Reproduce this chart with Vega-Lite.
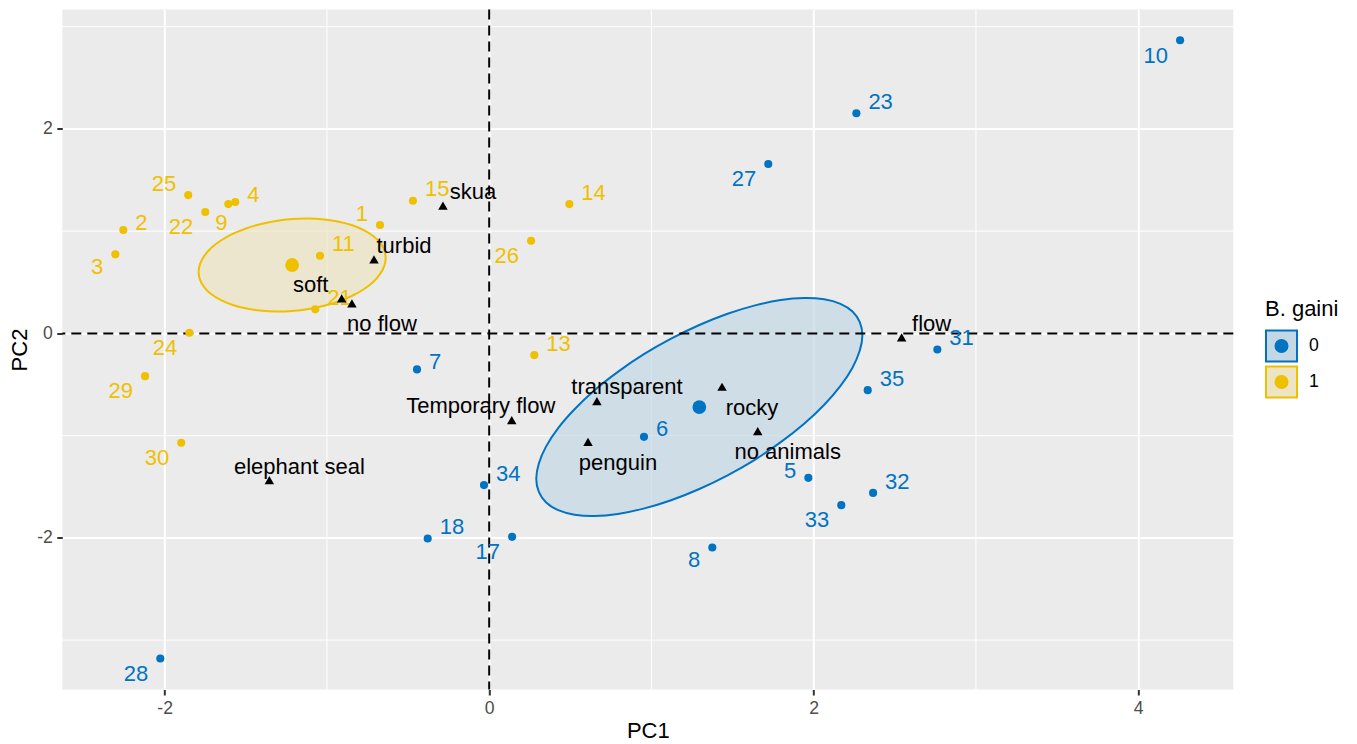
{
  "$schema": "https://vega.github.io/schema/vega-lite/v6.json",
  "width": 1171,
  "height": 680,
  "autosize": "none",
  "padding": {"left": 62.3, "top": 9.5, "right": 123.7, "bottom": 54.5},
  "background": "white",
  "config": {
    "view": {"fill": "#EBEBEB", "stroke": null},
    "font": "Liberation Sans",
    "axis": {
      "domain": false,
      "grid": true,
      "gridColor": "white",
      "gridWidth": 2,
      "tickColor": "#333333",
      "tickWidth": 2,
      "tickSize": 5.5,
      "labelFont": "Liberation Sans",
      "labelFontSize": 17.6,
      "labelColor": "#4D4D4D",
      "labelPadding": 4.4,
      "labelFlush": false,
      "labelOverlap": false,
      "labelExpr": "'' + datum.value",
      "titleFont": "Liberation Sans",
      "titleFontSize": 22,
      "titleFontWeight": "normal",
      "titleColor": "black"
    }
  },
  "datasets": {
    "samples": [
      {"id": "1", "grp": "1", "x": -0.673, "y": 1.060, "side": "ul"},
      {"id": "2", "grp": "1", "x": -2.255, "y": 1.011, "side": "ur1"},
      {"id": "3", "grp": "1", "x": -2.304, "y": 0.773, "side": "ll1"},
      {"id": "4", "grp": "1", "x": -1.565, "y": 1.285, "side": "ur1"},
      {"id": "9", "grp": "1", "x": -1.608, "y": 1.265, "side": "b"},
      {"id": "11", "grp": "1", "x": -1.043, "y": 0.759, "side": "ur"},
      {"id": "13", "grp": "1", "x": 0.278, "y": -0.212, "side": "ur"},
      {"id": "14", "grp": "1", "x": 0.494, "y": 1.265, "side": "ur"},
      {"id": "15", "grp": "1", "x": -0.470, "y": 1.297, "side": "ur"},
      {"id": "21", "grp": "1", "x": -1.072, "y": 0.235, "side": "ur"},
      {"id": "22", "grp": "1", "x": -1.750, "y": 1.187, "side": "ll"},
      {"id": "24", "grp": "1", "x": -1.848, "y": 0.006, "side": "ll"},
      {"id": "25", "grp": "1", "x": -1.855, "y": 1.353, "side": "ul"},
      {"id": "26", "grp": "1", "x": 0.258, "y": 0.906, "side": "ll"},
      {"id": "29", "grp": "1", "x": -2.121, "y": -0.418, "side": "ll"},
      {"id": "30", "grp": "1", "x": -1.898, "y": -1.070, "side": "ll"},
      {"id": "5", "grp": "0", "x": 1.967, "y": -1.413, "side": "ul1"},
      {"id": "6", "grp": "0", "x": 0.954, "y": -1.012, "side": "ur1"},
      {"id": "7", "grp": "0", "x": -0.445, "y": -0.352, "side": "ur1"},
      {"id": "8", "grp": "0", "x": 1.375, "y": -2.094, "side": "ll1"},
      {"id": "10", "grp": "0", "x": 4.258, "y": 2.867, "side": "ll"},
      {"id": "17", "grp": "0", "x": 0.141, "y": -1.990, "side": "ll"},
      {"id": "18", "grp": "0", "x": -0.379, "y": -2.006, "side": "ur"},
      {"id": "23", "grp": "0", "x": 2.263, "y": 2.153, "side": "ur"},
      {"id": "27", "grp": "0", "x": 1.720, "y": 1.657, "side": "ll"},
      {"id": "28", "grp": "0", "x": -2.027, "y": -3.180, "side": "ll"},
      {"id": "31", "grp": "0", "x": 2.762, "y": -0.157, "side": "ur"},
      {"id": "32", "grp": "0", "x": 2.366, "y": -1.560, "side": "ur"},
      {"id": "33", "grp": "0", "x": 2.170, "y": -1.680, "side": "ll"},
      {"id": "34", "grp": "0", "x": -0.032, "y": -1.484, "side": "ur"},
      {"id": "35", "grp": "0", "x": 2.333, "y": -0.555, "side": "ur"}
    ],
    "variables": [
      {"name": "turbid", "x": -0.710, "y": 0.724, "side": "ar"},
      {"name": "soft", "x": -0.909, "y": 0.342, "side": "al"},
      {"name": "no flow", "x": -0.846, "y": 0.294, "side": "br"},
      {"name": "skua", "x": -0.285, "y": 1.249, "side": "ar"},
      {"name": "flow", "x": 2.542, "y": -0.039, "side": "ar"},
      {"name": "elephant seal", "x": -1.355, "y": -1.435, "side": "ar"},
      {"name": "Temporary flow", "x": 0.139, "y": -0.848, "side": "al"},
      {"name": "transparent", "x": 0.664, "y": -0.662, "side": "ar"},
      {"name": "penguin", "x": 0.609, "y": -1.061, "side": "br"},
      {"name": "rocky", "x": 1.435, "y": -0.522, "side": "br"},
      {"name": "no animals", "x": 1.655, "y": -0.956, "side": "br"}
    ],
    "ellipses": [
      {"grp": "0", "i": 0, "x": 2.300, "y": -0.018},
      {"grp": "0", "i": 1, "x": 2.284, "y": -0.168},
      {"grp": "0", "i": 2, "x": 2.239, "y": -0.335},
      {"grp": "0", "i": 3, "x": 2.165, "y": -0.514},
      {"grp": "0", "i": 4, "x": 2.065, "y": -0.698},
      {"grp": "0", "i": 5, "x": 1.941, "y": -0.884},
      {"grp": "0", "i": 6, "x": 1.797, "y": -1.064},
      {"grp": "0", "i": 7, "x": 1.639, "y": -1.234},
      {"grp": "0", "i": 8, "x": 1.469, "y": -1.388},
      {"grp": "0", "i": 9, "x": 1.295, "y": -1.522},
      {"grp": "0", "i": 10, "x": 1.121, "y": -1.632},
      {"grp": "0", "i": 11, "x": 0.951, "y": -1.714},
      {"grp": "0", "i": 12, "x": 0.793, "y": -1.766},
      {"grp": "0", "i": 13, "x": 0.649, "y": -1.786},
      {"grp": "0", "i": 14, "x": 0.526, "y": -1.773},
      {"grp": "0", "i": 15, "x": 0.425, "y": -1.729},
      {"grp": "0", "i": 16, "x": 0.351, "y": -1.654},
      {"grp": "0", "i": 17, "x": 0.306, "y": -1.550},
      {"grp": "0", "i": 18, "x": 0.290, "y": -1.422},
      {"grp": "0", "i": 19, "x": 0.306, "y": -1.272},
      {"grp": "0", "i": 20, "x": 0.351, "y": -1.105},
      {"grp": "0", "i": 21, "x": 0.425, "y": -0.926},
      {"grp": "0", "i": 22, "x": 0.526, "y": -0.742},
      {"grp": "0", "i": 23, "x": 0.649, "y": -0.556},
      {"grp": "0", "i": 24, "x": 0.793, "y": -0.376},
      {"grp": "0", "i": 25, "x": 0.951, "y": -0.206},
      {"grp": "0", "i": 26, "x": 1.121, "y": -0.052},
      {"grp": "0", "i": 27, "x": 1.295, "y": 0.082},
      {"grp": "0", "i": 28, "x": 1.469, "y": 0.192},
      {"grp": "0", "i": 29, "x": 1.639, "y": 0.274},
      {"grp": "0", "i": 30, "x": 1.797, "y": 0.326},
      {"grp": "0", "i": 31, "x": 1.941, "y": 0.346},
      {"grp": "0", "i": 32, "x": 2.065, "y": 0.333},
      {"grp": "0", "i": 33, "x": 2.165, "y": 0.289},
      {"grp": "0", "i": 34, "x": 2.239, "y": 0.214},
      {"grp": "0", "i": 35, "x": 2.284, "y": 0.110},
      {"grp": "1", "i": 0, "x": -0.638, "y": 0.738},
      {"grp": "1", "i": 1, "x": -0.647, "y": 0.658},
      {"grp": "1", "i": 2, "x": -0.673, "y": 0.580},
      {"grp": "1", "i": 3, "x": -0.715, "y": 0.503},
      {"grp": "1", "i": 4, "x": -0.773, "y": 0.432},
      {"grp": "1", "i": 5, "x": -0.844, "y": 0.368},
      {"grp": "1", "i": 6, "x": -0.926, "y": 0.314},
      {"grp": "1", "i": 7, "x": -1.017, "y": 0.270},
      {"grp": "1", "i": 8, "x": -1.114, "y": 0.238},
      {"grp": "1", "i": 9, "x": -1.215, "y": 0.219},
      {"grp": "1", "i": 10, "x": -1.315, "y": 0.214},
      {"grp": "1", "i": 11, "x": -1.412, "y": 0.223},
      {"grp": "1", "i": 12, "x": -1.503, "y": 0.245},
      {"grp": "1", "i": 13, "x": -1.585, "y": 0.280},
      {"grp": "1", "i": 14, "x": -1.656, "y": 0.327},
      {"grp": "1", "i": 15, "x": -1.714, "y": 0.385},
      {"grp": "1", "i": 16, "x": -1.756, "y": 0.451},
      {"grp": "1", "i": 17, "x": -1.782, "y": 0.523},
      {"grp": "1", "i": 18, "x": -1.791, "y": 0.601},
      {"grp": "1", "i": 19, "x": -1.782, "y": 0.680},
      {"grp": "1", "i": 20, "x": -1.756, "y": 0.758},
      {"grp": "1", "i": 21, "x": -1.714, "y": 0.835},
      {"grp": "1", "i": 22, "x": -1.656, "y": 0.906},
      {"grp": "1", "i": 23, "x": -1.585, "y": 0.970},
      {"grp": "1", "i": 24, "x": -1.503, "y": 1.024},
      {"grp": "1", "i": 25, "x": -1.412, "y": 1.068},
      {"grp": "1", "i": 26, "x": -1.315, "y": 1.100},
      {"grp": "1", "i": 27, "x": -1.215, "y": 1.119},
      {"grp": "1", "i": 28, "x": -1.114, "y": 1.124},
      {"grp": "1", "i": 29, "x": -1.017, "y": 1.115},
      {"grp": "1", "i": 30, "x": -0.926, "y": 1.093},
      {"grp": "1", "i": 31, "x": -0.844, "y": 1.058},
      {"grp": "1", "i": 32, "x": -0.773, "y": 1.011},
      {"grp": "1", "i": 33, "x": -0.715, "y": 0.953},
      {"grp": "1", "i": 34, "x": -0.673, "y": 0.887},
      {"grp": "1", "i": 35, "x": -0.647, "y": 0.815}
    ],
    "minorX": [{"v": -1}, {"v": 1}, {"v": 3}],
    "minorY": [{"v": -3}, {"v": -1}, {"v": 1}, {"v": 3}],
    "origin": [{"v": 0}]
  },
  "encoding": {
    "x": {
      "field": "x",
      "type": "quantitative",
      "scale": {"domain": [-2.631, 4.586], "nice": false, "zero": false},
      "axis": {"values": [-2, 0, 2, 4], "title": "PC1", "titlePadding": 3}
    },
    "y": {
      "field": "y",
      "type": "quantitative",
      "scale": {"domain": [-3.483, 3.168], "nice": false, "zero": false},
      "axis": {"values": [-2, 0, 2], "title": "PC2", "titlePadding": 5.5}
    }
  },
  "layer": [
    {
      "data": {"name": "minorX"},
      "mark": {"type": "rule", "color": "white", "strokeWidth": 1},
      "encoding": {"x": {"field": "v", "type": "quantitative"}, "y": null}
    },
    {
      "data": {"name": "minorY"},
      "mark": {"type": "rule", "color": "white", "strokeWidth": 1},
      "encoding": {"y": {"field": "v", "type": "quantitative"}, "x": null}
    },
    {
      "data": {"name": "ellipses"},
      "mark": {"type": "line", "interpolate": "cardinal-closed", "fillOpacity": 0.7, "strokeWidth": 2},
      "encoding": {
        "order": {"field": "i", "type": "quantitative"},
        "fill": {
          "field": "grp",
          "type": "nominal",
          "scale": {"domain": ["0", "1"], "range": ["#C3D7E4", "#ECE4C3"]}
        },
        "stroke": {
          "field": "grp",
          "type": "nominal",
          "scale": {"domain": ["0", "1"], "range": ["#0073C2", "#EFC000"]},
          "legend": {
            "title": "B. gaini",
            "orient": "none",
            "legendX": 1202.7,
            "legendY": 289.5,
            "padding": 0,
            "titleFont": "Liberation Sans",
            "titleFontSize": 22,
            "titleFontWeight": "normal",
            "titleColor": "black",
            "titleAnchor": "start",
            "titlePadding": 8.5,
            "labelFont": "Liberation Sans",
            "labelFontSize": 17.6,
            "labelColor": "black",
            "labelOffset": 11,
            "rowPadding": -3,
            "symbolSize": 961,
            "symbolStrokeWidth": 2,
            "symbolOpacity": 1,
            "symbolType": "M-1,-1L1,-1L1,1L-1,1Z M0.387,0C0.387,0.2137,0.2137,0.387,0,0.387C-0.2137,0.387,-0.387,0.2137,-0.387,0C-0.387,-0.2137,-0.2137,-0.387,0,-0.387C0.2137,-0.387,0.387,-0.2137,0.387,0Z M0.284,0C0.284,0.1569,0.1569,0.284,0,0.284C-0.1569,0.284,-0.284,0.1569,-0.284,0C-0.284,-0.1569,-0.1569,-0.284,0,-0.284C0.1569,-0.284,0.284,-0.1569,0.284,0Z M0.181,0C0.181,0.1,0.1,0.181,0,0.181C-0.1,0.181,-0.181,0.1,-0.181,0C-0.181,-0.1,-0.1,-0.181,0,-0.181C0.1,-0.181,0.181,-0.1,0.181,0Z M0.077,0C0.077,0.0425,0.0425,0.077,0,0.077C-0.0425,0.077,-0.077,0.0425,-0.077,0C-0.077,-0.0425,-0.0425,-0.077,0,-0.077C0.0425,-0.077,0.077,-0.0425,0.077,0Z"
          }
        }
      }
    },
    {
      "data": {"name": "origin"},
      "mark": {"type": "rule", "color": "black", "strokeWidth": 2, "strokeDash": [10, 6]},
      "encoding": {"x": {"field": "v", "type": "quantitative"}, "y": null}
    },
    {
      "data": {"name": "origin"},
      "mark": {"type": "rule", "color": "black", "strokeWidth": 2, "strokeDash": [10, 6]},
      "encoding": {"y": {"field": "v", "type": "quantitative"}, "x": null}
    },
    {
      "data": {"name": "samples"},
      "mark": {"type": "circle", "size": 66, "opacity": 1},
      "encoding": {
        "color": {
          "field": "grp",
          "type": "nominal",
          "scale": {"range": ["#0073C2", "#EFC000"]},
          "legend": null
        }
      }
    },
    {
      "data": {"name": "samples"},
      "transform": [{"filter": "datum.side === 'ur'"}],
      "mark": {"type": "text", "font": "Liberation Sans", "fontSize": 22, "align": "left", "baseline": "middle", "dx": 12, "dy": -11.3},
      "encoding": {"text": {"field": "id"}, "color": {"field": "grp", "type": "nominal", "legend": null}}
    },
    {
      "data": {"name": "samples"},
      "transform": [{"filter": "datum.side === 'ur1'"}],
      "mark": {"type": "text", "font": "Liberation Sans", "fontSize": 22, "align": "left", "baseline": "middle", "dx": 12, "dy": -7.5},
      "encoding": {"text": {"field": "id"}, "color": {"field": "grp", "type": "nominal", "legend": null}}
    },
    {
      "data": {"name": "samples"},
      "transform": [{"filter": "datum.side === 'll'"}],
      "mark": {"type": "text", "font": "Liberation Sans", "fontSize": 22, "align": "right", "baseline": "middle", "dx": -12, "dy": 15.3},
      "encoding": {"text": {"field": "id"}, "color": {"field": "grp", "type": "nominal", "legend": null}}
    },
    {
      "data": {"name": "samples"},
      "transform": [{"filter": "datum.side === 'll1'"}],
      "mark": {"type": "text", "font": "Liberation Sans", "fontSize": 22, "align": "right", "baseline": "middle", "dx": -12, "dy": 12.3},
      "encoding": {"text": {"field": "id"}, "color": {"field": "grp", "type": "nominal", "legend": null}}
    },
    {
      "data": {"name": "samples"},
      "transform": [{"filter": "datum.side === 'ul'"}],
      "mark": {"type": "text", "font": "Liberation Sans", "fontSize": 22, "align": "right", "baseline": "middle", "dx": -12, "dy": -11.3},
      "encoding": {"text": {"field": "id"}, "color": {"field": "grp", "type": "nominal", "legend": null}}
    },
    {
      "data": {"name": "samples"},
      "transform": [{"filter": "datum.side === 'ul1'"}],
      "mark": {"type": "text", "font": "Liberation Sans", "fontSize": 22, "align": "right", "baseline": "middle", "dx": -12, "dy": -7.3},
      "encoding": {"text": {"field": "id"}, "color": {"field": "grp", "type": "nominal", "legend": null}}
    },
    {
      "data": {"name": "samples"},
      "transform": [{"filter": "datum.side === 'b'"}],
      "mark": {"type": "text", "font": "Liberation Sans", "fontSize": 22, "align": "center", "baseline": "middle", "dx": -7, "dy": 19},
      "encoding": {"text": {"field": "id"}, "color": {"field": "grp", "type": "nominal", "legend": null}}
    },
    {
      "data": {"name": "samples"},
      "transform": [{"aggregate": [{"op": "mean", "field": "x", "as": "x"}, {"op": "mean", "field": "y", "as": "y"}], "groupby": ["grp"]}],
      "mark": {"type": "circle", "size": 190, "opacity": 1},
      "encoding": {"color": {"field": "grp", "type": "nominal", "legend": null}}
    },
    {
      "data": {"name": "variables"},
      "mark": {"type": "point", "shape": "triangle-up", "size": 90, "filled": true, "color": "black", "opacity": 1}
    },
    {
      "data": {"name": "variables"},
      "transform": [{"filter": "datum.side === 'ar'"}],
      "mark": {"type": "text", "font": "Liberation Sans", "fontSize": 22, "color": "black", "align": "center", "baseline": "middle", "dx": 30, "dy": -13.6},
      "encoding": {"text": {"field": "name"}}
    },
    {
      "data": {"name": "variables"},
      "transform": [{"filter": "datum.side === 'br'"}],
      "mark": {"type": "text", "font": "Liberation Sans", "fontSize": 22, "color": "black", "align": "center", "baseline": "middle", "dx": 30, "dy": 21},
      "encoding": {"text": {"field": "name"}}
    },
    {
      "data": {"name": "variables"},
      "transform": [{"filter": "datum.side === 'al'"}],
      "mark": {"type": "text", "font": "Liberation Sans", "fontSize": 22, "color": "black", "align": "center", "baseline": "middle", "dx": -31, "dy": -13.6},
      "encoding": {"text": {"field": "name"}}
    }
  ]
}
